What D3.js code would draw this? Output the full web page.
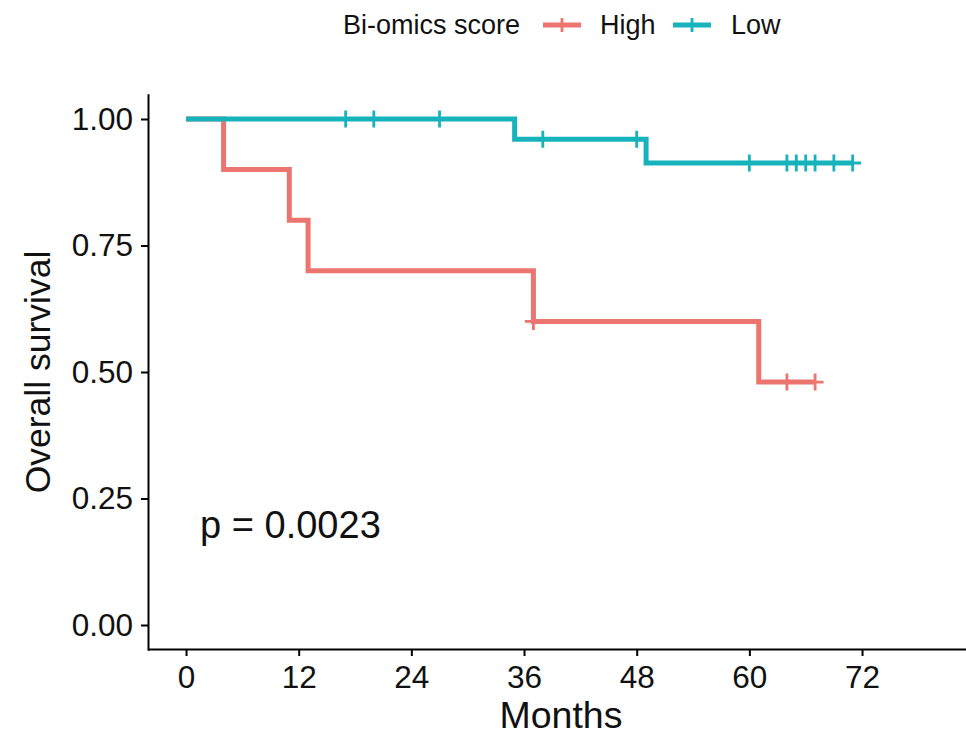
<!DOCTYPE html>
<html>
<head>
<meta charset="utf-8">
<script src="https://cdn.jsdelivr.net/npm/d3@7"></script>
<style>
  html, body { margin: 0; padding: 0; background: #fff; }
  svg { display: block; font-family: "Liberation Sans", Arial, sans-serif; }
</style>
</head>
<body>
<div id="chart"></div>
<script>
// Kaplan-Meier steps
const highTime = [0, 4, 11, 13, 37, 61, 67];
const highSurv = [1.0, 0.9, 0.8, 0.7, 0.6, 0.48, 0.48];
const highCensor = [37, 64, 67];

const lowTime = [0, 35, 49, 71];
const lowSurv = [1.0, 0.96, 0.913, 0.913];
const lowCensor = [17, 20, 27, 38, 48, 60, 64, 65, 66, 67, 69, 71];

const groupNames = ["High", "Low"];
const groupColors = ["#EC7570", "#16B3BC"];
const xTicks = [0, 12, 24, 36, 48, 60, 72];
const yTicks = [0, 0.25, 0.5, 0.75, 1.0];
const legendTitle = "Bi-omics score";
const pText = "p = 0.0023";

const width = 966, height = 735;

let svg = d3.select("#chart").append("svg")
    .attr("width", width)
    .attr("height", height);

// scales (ggplot style 5% expansion)
let x = d3.scaleLinear().domain([-4.05, 85.05]).range([148, 148 + 89.1 * 9.389]);
let y = d3.scaleLinear().domain([-0.05, 1.05]).range([650.3, 93.7]);

function survAt(times, surv, t) {
    let s = surv[0];
    for (let i = 0; i < times.length; i++) {
        if (times[i] <= t) s = surv[i];
    }
    return s;
}

// axes
let gx = svg.append("g")
    .attr("transform", "translate(0," + 649 + ")")
    .call(d3.axisBottom(x).tickValues(xTicks).tickSize(7).tickSizeOuter(0).tickPadding(10));

let gy = svg.append("g")
    .attr("transform", "translate(" + 148 + ",0)")
    .call(d3.axisLeft(y).tickValues(yTicks).tickFormat(d3.format(".2f")).tickSize(7).tickSizeOuter(0).tickPadding(8));

[gx, gy].forEach(function (g) {
    g.select(".domain").attr("stroke", "#000").attr("stroke-width", 2);
    g.selectAll(".tick line").attr("stroke", "#000").attr("stroke-width", 2);
    g.selectAll(".tick text").attr("fill", "#111").style("font-size", "31.5px");
});

// curves
const groups = [
    { name: groupNames[0], color: groupColors[0], time: highTime, surv: highSurv, censor: highCensor },
    { name: groupNames[1], color: groupColors[1], time: lowTime, surv: lowSurv, censor: lowCensor }
];

let line = d3.line()
    .x(function (d) { return x(d[0]); })
    .y(function (d) { return y(d[1]); })
    .curve(d3.curveStepAfter);

groups.forEach(function (grp) {
    let pts = grp.time.map(function (t, i) { return [t, grp.surv[i]]; });

    svg.append("path")
        .datum(pts)
        .attr("fill", "none")
        .attr("stroke", grp.color)
        .attr("stroke-width", 5)
        .attr("stroke-linejoin", "miter")
        .attr("d", line);

    svg.selectAll(null)
        .data(grp.censor)
        .enter().append("path")
        .attr("fill", "none")
        .attr("stroke", grp.color)
        .attr("stroke-width", 2.8)
        .attr("d", function (t) {
            let cx = x(t), cy = y(survAt(grp.time, grp.surv, t));
            return "M" + (cx - 8.5) + "," + cy + "H" + (cx + 8.5) +
                "M" + cx + "," + (cy - 8.5) + "V" + (cy + 8.5);
        });
});

// p value
svg.append("text")
    .attr("x", x(1.5))
    .attr("y", y(0.172))
    .attr("fill", "#111")
    .style("font-size", "38px")
    .text(pText);

// axis titles
svg.append("text")
    .attr("x", 561)
    .attr("y", 728)
    .attr("text-anchor", "middle")
    .attr("fill", "#111")
    .style("font-size", "37.5px")
    .text("Months");

svg.append("text")
    .attr("transform", "translate(50,372) rotate(-90)")
    .attr("text-anchor", "middle")
    .attr("fill", "#111")
    .style("font-size", "35.5px")
    .text("Overall survival");

// legend
let legend = svg.append("g");
legend.append("text")
    .attr("x", 343)
    .attr("y", 34)
    .attr("fill", "#111")
    .style("font-size", "27px")
    .text(legendTitle);

const keyX = [543, 673];
const labelX = [600, 731];
groups.forEach(function (grp, i) {
    legend.append("path")
        .attr("stroke", grp.color)
        .attr("stroke-width", 5)
        .attr("d", "M" + keyX[i] + ",25H" + (keyX[i] + 38));
    legend.append("path")
        .attr("stroke", grp.color)
        .attr("stroke-width", 2.8)
        .attr("d", "M" + (keyX[i] + 19) + ",18V32");
    legend.append("text")
        .attr("x", labelX[i])
        .attr("y", 34)
        .attr("fill", "#111")
        .style("font-size", "27px")
        .text(grp.name);
});
</script>
</body>
</html>
